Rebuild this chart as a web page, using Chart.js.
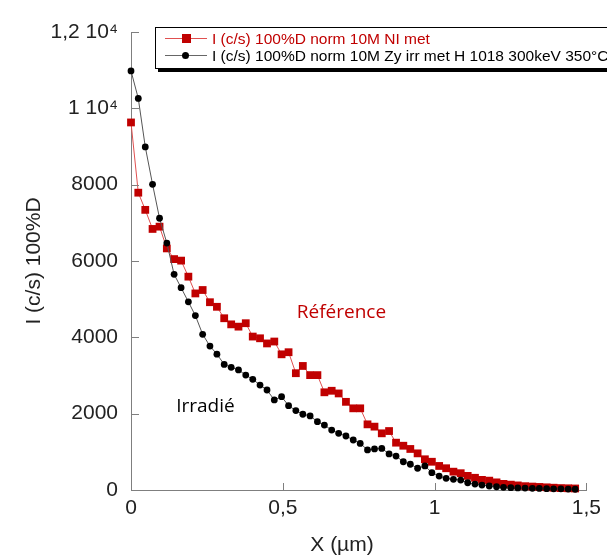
<!DOCTYPE html>
<html>
<head>
<meta charset="utf-8">
<script src="https://cdn.jsdelivr.net/npm/chart.js@4.4.1/dist/chart.umd.min.js"></script>
<style>
  body { margin: 0; background: #fff; overflow: hidden; }
  #wrap { position: relative; width: 607px; height: 556px; overflow: hidden; }
  #legend {
    position: absolute; left: 155px; top: 27px; width: 470px; height: 38px;
    border: 1px solid #000; box-shadow: 3px 3px 0 #000; background: #fff;
    font: 15.5px "Liberation Sans", Arial, sans-serif; padding-top: 2px;
  }
  .row { position: relative; height: 17px; line-height: 17px; white-space: nowrap; }
  .sample { position: absolute; left: 9px; top: 8px; width: 42px; height: 1px; }
  .mark { position: absolute; left: 17px; }
  .txt { position: absolute; left: 56px; top: 0; }
</style>
</head>
<body>
<div id="wrap">
  <canvas id="chart" width="607" height="556"></canvas>
  <div id="legend">
    <div class="row">
      <div class="sample" style="background:#e05050"><div class="mark" style="top:-4px;width:9px;height:9px;background:#c00000"></div></div>
      <span class="txt" style="color:#c00000">I (c/s) 100%D norm 10M NI met</span>
    </div>
    <div class="row">
      <div class="sample" style="background:#666"><div class="mark" style="top:-3px;width:7px;height:7px;border-radius:50%;background:#000"></div></div>
      <span class="txt" style="color:#000">I (c/s) 100%D norm 10M Zy irr met H 1018 300keV 350°C</span>
    </div>
  </div>
</div>
<script>
// profondeur X (µm)
var xValues = [0, 0.024, 0.047, 0.071, 0.094, 0.118, 0.142, 0.165, 0.189, 0.212,
  0.236, 0.260, 0.283, 0.307, 0.330, 0.354, 0.378, 0.401, 0.425, 0.448,
  0.472, 0.496, 0.519, 0.543, 0.566, 0.590, 0.614, 0.637, 0.661, 0.684,
  0.708, 0.732, 0.755, 0.779, 0.802, 0.826, 0.850, 0.873, 0.897, 0.920,
  0.944, 0.968, 0.991, 1.015, 1.038, 1.062, 1.086, 1.109, 1.133, 1.156,
  1.180, 1.204, 1.227, 1.251, 1.274, 1.298, 1.322, 1.345, 1.369, 1.392,
  1.416, 1.440, 1.463];

// Référence (NI)
var refValues = [9630, 7790, 7340, 6840, 6900, 6330, 6050, 6010, 5590, 5150,
  5240, 4920, 4800, 4500, 4340, 4280, 4370, 4020, 3975, 3840,
  3890, 3555, 3610, 3060, 3250, 3010, 3010, 2560, 2600, 2530,
  2310, 2140, 2140, 1720, 1660, 1485, 1545, 1240, 1160, 1075,
  960, 805, 740, 630, 570, 480, 440, 370, 320, 265,
  245, 200, 160, 140, 120, 100, 90, 80, 70, 60,
  50, 45, 40];

// Irradié
var irrValues = [10980, 10260, 8990, 8010, 7120, 6470, 5650, 5300, 4930, 4570,
  4080, 3770, 3560, 3290, 3215, 3145, 3010, 2900, 2750, 2620,
  2360, 2445, 2210, 2080, 1985, 1940, 1790, 1700, 1570, 1485,
  1415, 1310, 1220, 1050, 1075, 1090, 945, 890, 740, 675,
  570, 630, 455, 365, 305, 280, 260, 190, 155, 130,
  105, 85, 70, 60, 55, 50, 45, 40, 35, 30,
  30, 25, 20];

var xTicks = [0, 0.5, 1, 1.5];
var xTickLabels = ['0', '0,5', '1', '1,5'];
var yTicks = [0, 2000, 4000, 6000, 8000, 10000, 12000];
var yTickLabels = ['0', '2000', '4000', '6000', '8000', '1 10\u2074', '1,2 10\u2074'];

function toPoints(ys) {
  return ys.map(function(y, i) { return { x: xValues[i], y: y }; });
}

var tickFont = { family: '"Liberation Sans", Arial, sans-serif', size: 21 };

// petits traits vers l'intérieur + textes
var extras = {
  id: 'extras',
  afterDraw: function(chart) {
    var ctx = chart.ctx, xs = chart.scales.x, ys = chart.scales.y;
    var a = chart.chartArea;
    ctx.save();
    ctx.strokeStyle = '#7f7f7f';
    ctx.lineWidth = 1;
    ctx.beginPath();
    yTicks.forEach(function(v) {
      var py = Math.round(ys.getPixelForValue(v)) + 0.5;
      ctx.moveTo(a.left, py); ctx.lineTo(a.left + 8, py);
    });
    xTicks.forEach(function(v) {
      var px = Math.round(xs.getPixelForValue(v)) + 0.5;
      ctx.moveTo(px, a.bottom); ctx.lineTo(px, a.bottom - 7);
    });
    ctx.stroke();

    ctx.textAlign = 'center';
    ctx.textBaseline = 'middle';
    ctx.font = '19px "Open Sans", sans-serif';
    ctx.fillStyle = '#c00000';
    ctx.fillText('Référence', xs.getPixelForValue(0.693), ys.getPixelForValue(4640));
    ctx.fillStyle = '#000';
    ctx.fillText('Irradié', xs.getPixelForValue(0.245), ys.getPixelForValue(2175));

    ctx.font = '21px "Liberation Sans", Arial, sans-serif';
    ctx.fillStyle = '#222';
    ctx.fillText('X (µm)', 342, 545);
    ctx.restore();
  }
};

var ctx = document.getElementById('chart').getContext('2d');
var chart = new Chart(ctx, {
  type: 'scatter',
  data: {
    datasets: [{
      label: 'I (c/s) 100%D norm 10M NI met',
      data: toPoints(refValues),
      showLine: true,
      clip: false,
      borderColor: '#e05050',
      borderWidth: 1,
      pointStyle: 'rect',
      pointRadius: 5.5,
      pointBackgroundColor: '#c00000',
      pointBorderWidth: 0,
      order: 2
    }, {
      label: 'I (c/s) 100%D norm 10M Zy irr met H 1018 300keV 350°C',
      data: toPoints(irrValues),
      showLine: true,
      clip: false,
      borderColor: '#555',
      borderWidth: 1,
      pointStyle: 'circle',
      pointRadius: 3.4,
      pointBackgroundColor: '#000',
      pointBorderWidth: 0,
      order: 1
    }]
  },
  options: {
    responsive: false,
    animation: false,
    layout: { padding: { left: 22, top: 32, right: 17, bottom: 0 } },
    plugins: { legend: { display: false }, tooltip: { enabled: false } },
    scales: {
      x: {
        type: 'linear', min: 0, max: 1.5,
        afterBuildTicks: function(s) { s.ticks = xTicks.map(function(v) { return { value: v }; }); },
        afterFit: function(s) { s.height = 66; },
        grid: { drawOnChartArea: false, drawTicks: false },
        border: { color: '#7f7f7f', width: 1 },
        ticks: {
          padding: 6, color: '#222', font: tickFont, maxRotation: 0,
          callback: function(v) { return xTickLabels[xTicks.indexOf(v)]; }
        }
      },
      y: {
        type: 'linear', min: 0, max: 12000,
        afterBuildTicks: function(s) { s.ticks = yTicks.map(function(v) { return { value: v }; }); },
        afterFit: function(s) { s.width = 109; },
        grid: { drawOnChartArea: false, drawTicks: false },
        border: { color: '#7f7f7f', width: 1 },
        ticks: {
          padding: 13, color: '#222', font: tickFont,
          callback: function(v) { return yTickLabels[yTicks.indexOf(v)]; }
        },
        title: {
          display: true, text: 'I (c/s) 100%D', color: '#222',
          font: { family: '"Liberation Sans", Arial, sans-serif', size: 21 },
          padding: 0
        }
      }
    }
  },
  plugins: [extras]
});
</script>
</body>
</html>
